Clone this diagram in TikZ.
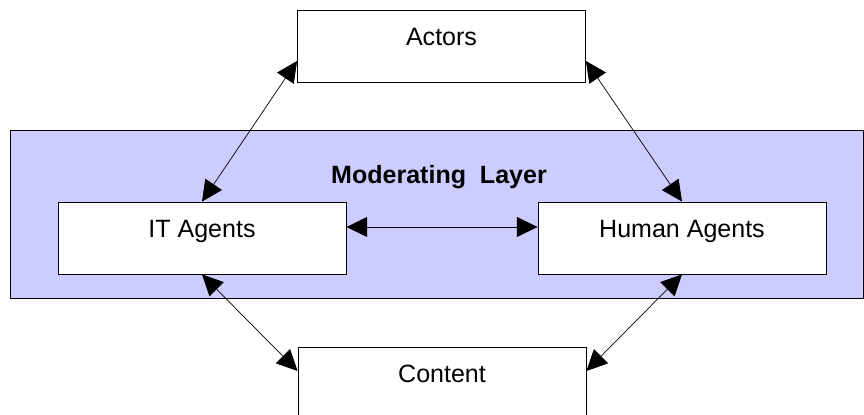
\documentclass[tikz,border=0pt]{standalone}
\usepackage{fontspec}
\setmainfont{Liberation Sans}
\usepackage{xcolor}
\usetikzlibrary{arrows.meta}

\definecolor{layerblue}{RGB}{204,204,255}

\begin{document}
\begin{tikzpicture}[
    box/.style={draw, fill=white, line width=0.6pt, minimum width=7.2cm, minimum height=1.8cm,
        text height=0.6cm, text depth=0.6cm, font=\fontsize{17.8}{21}\selectfont},
    link/.style={{Triangle[length=0.52cm,width=0.5cm]}-{Triangle[length=0.52cm,width=0.5cm]}, line width=0.5pt}
]
    \useasboundingbox (0, 0) rectangle (21.6, 10.375);

    % the moderating layer band
    \node[draw, fill=layerblue, line width=0.6pt, minimum width=21.325cm, minimum height=4.2cm] at (10.9125, 5.025) (layer) {};
    \node[font=\bfseries\fontsize{17.8}{21}\selectfont] at (10.975, 5.95) (title) {Moderating\ \ Layer};

    \node[box] at (11.0375, 9.225) (actors) {Actors};
    \node[box] at (5.05, 4.425) (it) {IT Agents};
    \node[box] at (17.05, 4.425) (hum) {Human Agents};
    \node[box] at (11.05, 0.8) (content) {Content};

    \draw[link] ([yshift=-0.375cm]actors.west) -- (it.north);
    \draw[link] ([yshift=-0.375cm]actors.east) -- (hum.north);
    \draw[link] ([yshift=0.275cm]it.east) -- ([yshift=0.275cm]hum.west);
    \draw[link] (it.south) -- ([yshift=0.3cm]content.west);
    \draw[link] (hum.south) -- ([yshift=0.3cm]content.east);
\end{tikzpicture}
\end{document}
